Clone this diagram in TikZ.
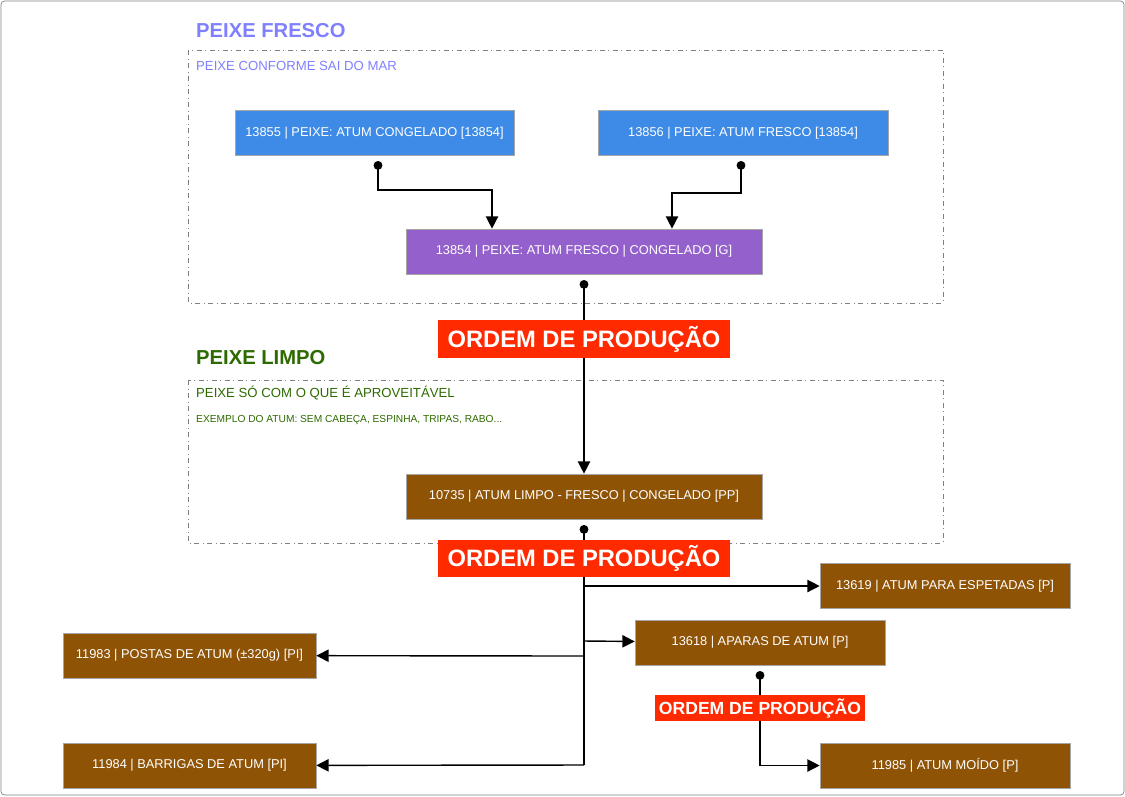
\documentclass[tikz,border=0pt]{standalone}
\usepackage{fontspec}
\setmainfont{Liberation Sans}
\usetikzlibrary{arrows.meta}
\definecolor{blu}{HTML}{3D8BE6}
\definecolor{pur}{HTML}{9460CC}
\definecolor{brn}{HTML}{8F5306}
\definecolor{ordr}{HTML}{FF2A00}
\definecolor{fresco}{HTML}{8080FF}
\definecolor{limpo}{HTML}{2D6A00}
\begin{document}
\begin{tikzpicture}[x=0.02cm,y=-0.02cm,
box/.style = {draw=gray!70,minimum height=0.9cm,text=white,font=\fontsize{7.3}{8}\selectfont,inner sep=0pt},
ord/.style = {fill=ordr,text=white,font=\bfseries,inner sep=2pt},
con/.style = {draw,-{Triangle[length=7pt,width=7pt]},thick},
dot/.style = {draw,{Circle[length=5pt]}-{Triangle[length=7pt,width=7pt]},thick},
reg/.style = {draw=gray,dash dot}
]
  \draw[gray,rounded corners=2pt] (1,1) rectangle (1124,795);
  \useasboundingbox (0,0) rectangle (1125,796);

  \draw[reg] (188,50) rectangle (943,303);
  \draw[reg] (188,380) rectangle (943,543);

  \node[anchor=west,text=fresco,font=\fontsize{11.5}{13}\bfseries] (tf) at (190,31) {PEIXE FRESCO};
  \node[anchor=west,text=fresco,font=\fontsize{7.5}{9}\selectfont] (sf) at (190,66) {PEIXE CONFORME SAI DO MAR};
  \node[anchor=west,text=limpo,font=\fontsize{11.5}{13}\bfseries] (tl) at (190,358) {PEIXE LIMPO};
  \node[anchor=west,text=limpo,font=\fontsize{7.5}{9}\selectfont] (sl) at (190,393) {PEIXE SÓ COM O QUE É APROVEITÁVEL};
  \node[anchor=west,text=limpo,font=\fontsize{5.8}{7}\selectfont] (el) at (190,420) {EXEMPLO DO ATUM: SEM CABEÇA, ESPINHA, TRIPAS, RABO...};

  \node[box,fill=blu,minimum width=5.58cm] (c13855) at (374.5,133) {13855 | PEIXE: ATUM CONGELADO [13854]};
  \node[box,fill=blu,minimum width=5.8cm] (c13856) at (743,133) {13856 | PEIXE: ATUM FRESCO [13854]};
  \node[box,fill=pur,minimum width=7.12cm] (c13854) at (584,251.5) {13854 | PEIXE: ATUM FRESCO | CONGELADO [G]};
  \node[box,fill=brn,minimum width=7.12cm] (c10735) at (584,496.5) {10735 | ATUM LIMPO - FRESCO | CONGELADO [PP]};
  \node[box,fill=brn,minimum width=5cm] (c13619) at (945,586) {13619 | ATUM PARA ESPETADAS [P]};
  \node[box,fill=brn,minimum width=5cm] (c13618) at (760,642.5) {13618 | APARAS DE ATUM [P]};
  \node[box,fill=brn,minimum width=5.06cm] (c11983) at (189.5,655.5) {11983 | POSTAS DE ATUM (±320g) [PI]};
  \node[box,fill=brn,minimum width=5.06cm] (c11984) at (189.5,765.5) {11984 | BARRIGAS DE ATUM [PI]};
  \node[box,fill=brn,minimum width=5cm] (c11985) at (945,765.5) {11985 | ATUM MOÍDO [P]};

  \coordinate (j1) at (584,586);
  \coordinate (j2) at (584,641);
  \coordinate (j3) at (584,656);
  \coordinate (j4) at (584,765);

  \path[dot] (378,161) |- (492,190) -- (c13854.north -| 492,0);
  \path[dot] (741,161) |- (672,193) -- (c13854.north -| 672,0);
  \path[dot] (584,280) -- (c10735);
  \draw[thick,{Circle[length=5pt]}-] (584,525) -- (j4);
  \path[con] (j1) -- (c13619);
  \path[con] (j2) -- (c13618);
  \path[con] (j3) -- (c11983);
  \path[con] (j4) -- (c11984);
  \path[dot] (760,671) |- (c11985);

  \node[ord,font=\fontsize{13.5}{15}\bfseries,minimum width=5.84cm,minimum height=0.76cm] (o1) at (584,339) {ORDEM DE PRODUÇÃO};
  \node[ord,font=\fontsize{13.5}{15}\bfseries,minimum width=5.84cm,minimum height=0.74cm] (o2) at (584,558) {ORDEM DE PRODUÇÃO};
  \node[ord,font=\fontsize{10}{12}\bfseries,minimum width=4.2cm,minimum height=0.52cm] (o3) at (760,708) {ORDEM DE PRODUÇÃO};
\end{tikzpicture}
\end{document}
